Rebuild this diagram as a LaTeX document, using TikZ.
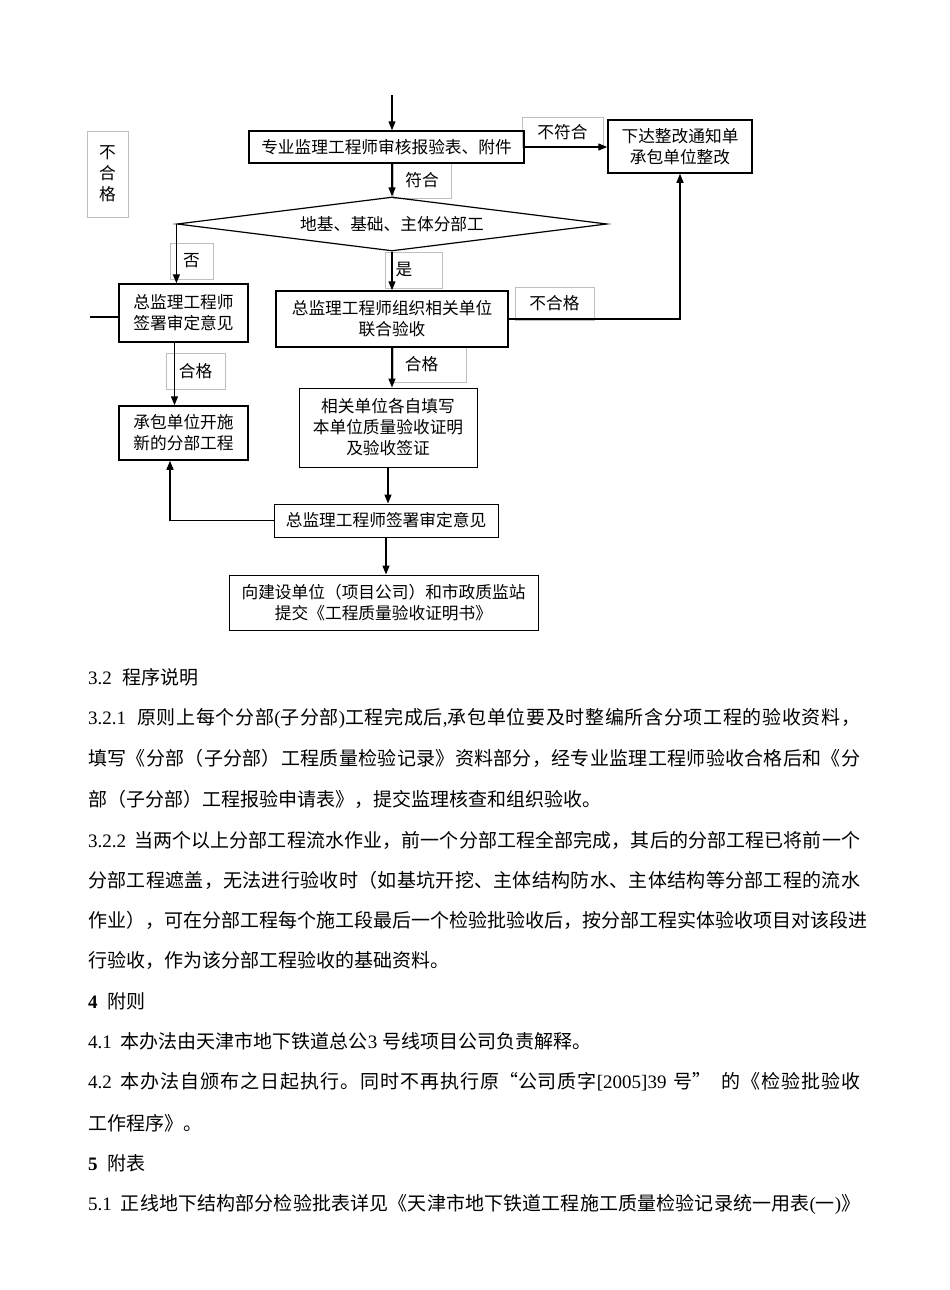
\documentclass[tikz,border=0pt]{standalone}
\usepackage{fontspec}
\setmainfont{Noto Sans CJK SC}
\newfontfamily\latfont{Liberation Serif}
\usetikzlibrary{positioning,arrows.meta,shapes.geometric}
% stretchable glue between CJK characters, so that lines can be justified
\XeTeXinterchartokenstate=1
\newcount\cjkn
\cjkn="3000
\loop\XeTeXcharclass\cjkn=7 \advance\cjkn by 1 \ifnum\cjkn<"A000 \repeat
\cjkn="FF00
\loop\XeTeXcharclass\cjkn=7 \advance\cjkn by 1 \ifnum\cjkn<"FFF0 \repeat
\XeTeXinterchartoks 7 7 = {\hskip 0pt plus 1pt\relax}
\newcommand\ltn[1]{{\latfont #1}}
\newcommand\ffs{\fontsize{16.7}{21}\selectfont}
\newcommand\bfs{\fontsize{19}{19}\selectfont}
\newcommand\jline[1]{\makebox[772pt][s]{#1}}

\begin{document}
\begin{tikzpicture}[x=1pt,y=-1pt,
    every node/.style={font=\ffs},
    mbox/.style={draw,line width=1.5pt,inner sep=0pt,align=center},
    sbox/.style={draw,line width=1pt,inner sep=0pt,align=center},
    lbbox/.style={draw=black!25,line width=0.7pt,inner sep=0pt,align=center},
    link/.style={line width=1.3pt,-{Triangle[length=9pt,width=7pt]}},
    bodyline/.style={anchor=west,inner sep=0pt,font=\bfs}]
    \useasboundingbox (0,0) rectangle (950,1290);

    % label boxes
    \node[lbbox,minimum width=41pt,minimum height=86pt] (bhg) at (107.5,174) {不\\合\\格};
    \node[lbbox,minimum width=81pt,minimum height=30pt] (lnfh) at (562.5,132) {不符合};
    \node[lbbox,minimum width=58pt,minimum height=35pt] (lfh) at (422,180.5) {符合};
    \node[lbbox,minimum width=43pt,minimum height=36pt] (lfou) at (191.5,261) {否};
    \node[lbbox,minimum width=57pt,minimum height=36pt] (lshi) at (413.5,270) {是\hspace{19pt}};
    \node[lbbox,minimum width=79pt,minimum height=33pt] (lbhg) at (554.5,303.5) {不合格};
    \node[lbbox,minimum width=59pt,minimum height=36pt] (lhg1) at (195.5,371) {合格};
    \node[lbbox,minimum width=73pt,minimum height=35pt] (lhg2) at (429.5,364.5) {合格\hspace{16pt}};

    % boxes
    \node[mbox,minimum width=275pt,minimum height=32pt] (A) at (386.5,147) {专业监理工程师审核报验表、附件};
    \node[mbox,minimum width=144pt,minimum height=53pt] (D) at (680,146.5) {下达整改通知单\\承包单位整改};
    \node[draw,shape=diamond,aspect=8,inner sep=0pt,line width=1.2pt,
          minimum width=430pt,minimum height=54pt] (dia) at (392,224) {地基、基础、主体分部工};
    \node[mbox,minimum width=129pt,minimum height=58pt] (B) at (183.5,313) {总监理工程师\\签署审定意见};
    \node[mbox,minimum width=232pt,minimum height=56pt] (C) at (392,319) {总监理工程师组织相关单位\\联合验收};
    \node[mbox,minimum width=129pt,minimum height=54pt] (E) at (183.5,433) {承包单位开施\\新的分部工程};
    \node[sbox,minimum width=178pt,minimum height=79pt] (F) at (388,427.5) {相关单位各自填写\\本单位质量验收证明\\及验收签证};
    \node[sbox,minimum width=224pt,minimum height=33pt] (G) at (386,520.5) {总监理工程师签署审定意见};
    \node[sbox,minimum width=309pt,minimum height=55pt] (H) at (383.5,602.5) {向建设单位（项目公司）和市政质监站\\提交《工程质量验收证明书》};

    \coordinate (top) at (392,95);
    \coordinate (lft) at (90,317);

    % connectors
    \draw[link] (top) -- (top |- A.north);
    \draw[link] (A.east) -- (A.east -| D.west);
    \draw[link] (dia.north |- A.south) -- (dia.north);
    \draw[link] (dia.west) -- (dia.west |- B.north);
    \draw[link] (dia.south) -- (dia.south |- C.north);
    \draw[link] (C.east) -| (D.south);
    \draw[link] ([xshift=-9pt]B.south) -- ([xshift=-9pt]E.north);
    \draw[link] (C.south) -- (C.south |- F.north);
    \draw[link] (F.south) -- (F.south |- G.north);
    \draw[link] (G.west) -| ([xshift=-13.5pt]E.south);
    \draw[link] (G.south) -- (G.south |- H.north);
    \draw[line width=1.3pt] ([yshift=-4pt]B.west) -- (lft);

    % text below the chart
    \node[bodyline] (t1) at (88,677) {\ltn{3.2}\hspace{11pt}程序说明};
    \node[bodyline] (t2) at (88,718) {\jline{\ltn{3.2.1}\hspace{11pt}原则上每个分部\ltn{(}子分部\ltn{)}工程完成后\ltn{,}承包单位要及时整编所含分项工程的验收资料，}};
    \node[bodyline] (t3) at (88,758) {\jline{填写《分部（子分部）工程质量检验记录》资料部分，经专业监理工程师验收合格后和《分}};
    \node[bodyline] (t4) at (88,799) {部（子分部）工程报验申请表》，提交监理核查和组织验收。};
    \node[bodyline] (t5) at (88,840) {\jline{\ltn{3.2.2}\hspace{8pt}当两个以上分部工程流水作业，前一个分部工程全部完成，其后的分部工程已将前一个}};
    \node[bodyline] (t6) at (88,880) {\jline{分部工程遮盖，无法进行验收时（如基坑开挖、主体结构防水、主体结构等分部工程的流水}};
    \node[bodyline] (t7) at (88,920) {\jline{作业），可在分部工程每个施工段最后一个检验批验收后，按分部工程实体验收项目对该段进}};
    \node[bodyline] (t8) at (88,960) {行验收，作为该分部工程验收的基础资料。};
    \node[bodyline] (t9) at (88,1001) {\ltn{\bfseries 4}\hspace{10pt}附则};
    \node[bodyline] (t10) at (88,1041) {\ltn{4.1}\hspace{9pt}本办法由天津市地下铁道总公\ltn{3 }号线项目公司负责解释。};
    \node[bodyline] (t11) at (88,1082) {\jline{\ltn{4.2}\hspace{9pt}本办法自颁布之日起执行。同时不再执行原“公司质字\ltn{[2005]39 }号”\hspace{10pt}的《检验批验收}};
    \node[bodyline] (t12) at (88,1123) {工作程序》。};
    \node[bodyline] (t13) at (88,1163) {\ltn{\bfseries 5}\hspace{10pt}附表};
    \node[bodyline] (t14) at (88,1204) {\jline{\ltn{5.1}\hspace{9pt}正线地下结构部分检验批表详见《天津市地下铁道工程施工质量检验记录统一用表\ltn{(}一\ltn{)}》}};
\end{tikzpicture}
\end{document}
